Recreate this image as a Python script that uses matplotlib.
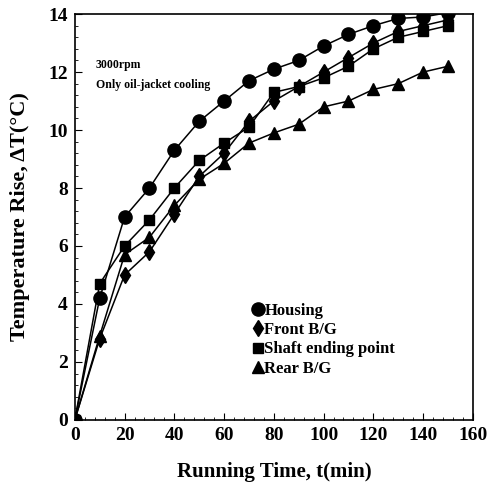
import matplotlib
matplotlib.use("Agg")
import matplotlib.pyplot as plt
from matplotlib.ticker import MultipleLocator

plt.rcParams['font.family'] = ['Liberation Serif', 'DejaVu Serif']
plt.rcParams['font.weight'] = 'bold'

# running time (min)
tiempo = [0, 10, 20, 30, 40, 50, 60, 70, 80, 90, 100, 110, 120, 130, 140, 150]

# temperature rise (deg C)
housing = [0, 4.2, 7.0, 8.0, 9.3, 10.3, 11.0, 11.7, 12.1, 12.4, 12.9, 13.3, 13.6, 13.85, 13.9, 14.05]
front_bg = [0, 2.8, 5.0, 5.8, 7.1, 8.4, 9.2, 10.3, 11.0, 11.5, 12.0, 12.5, 13.0, 13.4, 13.6, 13.8]
shaft_end = [0, 4.7, 6.0, 6.9, 8.0, 8.95, 9.55, 10.1, 11.3, 11.5, 11.8, 12.2, 12.8, 13.2, 13.4, 13.6]
rear_bg = [0, 2.9, 5.7, 6.3, 7.4, 8.3, 8.85, 9.55, 9.9, 10.2, 10.8, 11.0, 11.4, 11.6, 12.0, 12.2]

fig = plt.figure(figsize=(4.89, 4.86), dpi=100)
ax = fig.add_axes([0.153, 0.136, 0.814, 0.835])

ax.plot(tiempo, housing, color='black', lw=1.1, marker='o', ms=9.5, label='Housing')
ax.plot(tiempo, front_bg, color='black', lw=1.1, marker='d', ms=8.5, label='Front B/G')
ax.plot(tiempo, shaft_end, color='black', lw=1.1, marker='s', ms=7.5, label='Shaft ending point')
ax.plot(tiempo, rear_bg, color='black', lw=1.1, marker='^', ms=8.5, label='Rear B/G')

ax.set_xlim(0, 160)
ax.set_ylim(0, 14)
ax.xaxis.set_major_locator(MultipleLocator(20))
ax.xaxis.set_minor_locator(MultipleLocator(4))
ax.yaxis.set_major_locator(MultipleLocator(2))
ax.yaxis.set_minor_locator(MultipleLocator(0.4))
ax.tick_params(which='both', direction='in', labelsize=14)
ax.tick_params(which='major', length=5, pad=5)
ax.tick_params(which='minor', length=2.5)
for s in ax.spines.values():
    s.set_linewidth(1.2)

ax.set_xlabel('Running Time, t(min)', fontsize=15, fontweight='bold', labelpad=13)
ax.set_ylabel('Temperature Rise, \u0394T(\u00b0C)', fontsize=16, fontweight='bold', labelpad=13)

ax.text(8.5, 12.45, '3000rpm\nOnly oil-jacket cooling', fontsize=8.5, fontweight='bold',
        va='top', ha='left', linespacing=1.9)

leg = ax.legend(loc='upper left', bbox_to_anchor=(0.43, 0.305), frameon=False,
                handlelength=0.6, handletextpad=0.1, labelspacing=0.2,
                fontsize=12, borderaxespad=0)
for h in leg.legend_handles:
    h.set_linestyle('none')

fig.savefig('out.png', dpi=100)
